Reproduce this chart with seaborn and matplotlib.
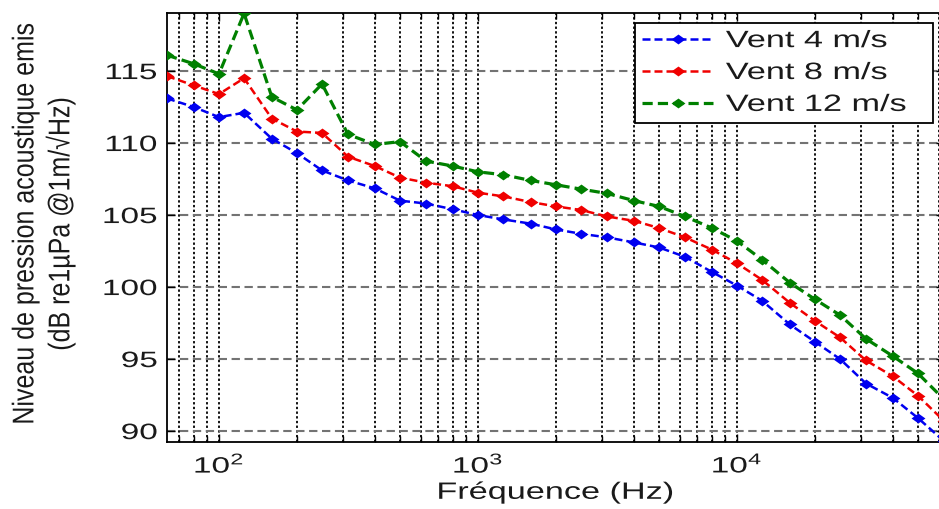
import numpy as np
import pandas as pd
import matplotlib
matplotlib.use("Agg")
import matplotlib.pyplot as plt
import seaborn as sns
from matplotlib.patheffects import AbstractPathEffect
from matplotlib.transforms import Affine2D
from matplotlib.path import Path
from matplotlib.ticker import LogLocator, NullFormatter, LogFormatterSciNotation

# Third-octave band centre frequencies (Hz)
freq_hz = [63, 80, 100, 125, 160, 200, 250, 315, 400, 500, 630, 800, 1000, 1250,
           1600, 2000, 2500, 3150, 4000, 5000, 6300, 8000, 10000, 12500, 16000,
           20000, 25000, 31500, 40000, 50000, 63000]

# Emitted source level, dB re 1 µPa @ 1 m / √Hz
level_4ms = [113.1, 112.5, 111.8, 112.1, 110.3, 109.3, 108.1, 107.4, 106.85, 106.0,
             105.8, 105.4, 105.0, 104.7, 104.4, 104.0, 103.7, 103.45, 103.1, 102.75,
             102.1, 101.05, 100.1, 99.05, 97.4, 96.2, 95.0, 93.3, 92.3, 90.9, 89.3]
level_8ms = [114.65, 114.0, 113.4, 114.5, 111.7, 110.8, 110.7, 109.05, 108.4, 107.6,
             107.25, 107.0, 106.55, 106.3, 105.9, 105.6, 105.35, 104.9, 104.6, 104.1,
             103.45, 102.6, 101.65, 100.5, 98.9, 97.65, 96.5, 94.9, 93.8, 92.45, 90.7]
level_12ms = [116.1, 115.5, 114.8, 119.0, 113.2, 112.3, 114.1, 110.6, 109.9, 110.1,
              108.75, 108.4, 108.0, 107.8, 107.4, 107.1, 106.8, 106.5, 106.0, 105.6,
              104.9, 104.1, 103.2, 101.9, 100.3, 99.15, 98.05, 96.4, 95.2, 94.0, 92.2]

series_labels = ["Vent 4 m/s", "Vent 8 m/s", "Vent 12 m/s"]
series_colors = ["#0000f0", "#f00000", "#008000"]
series_widths = [1.8, 1.8, 2.3]
y_ticks = [90, 95, 100, 105, 110, 115]
x_ticks = [100, 1000, 10000]


class WideGlyphs(AbstractPathEffect):
    """Draw text glyphs widened horizontally about a chosen edge."""

    def __init__(self, sx=1.45, anchor="center"):
        super().__init__()
        self.sx = sx
        self.anchor = anchor

    def draw_path(self, renderer, gc, tpath, affine, rgbFace=None):
        ext = tpath.get_extents(affine)
        if self.anchor == "left":
            x0 = ext.x0
        elif self.anchor == "right":
            x0 = ext.x1
        else:
            x0 = 0.5 * (ext.x0 + ext.x1)
        widen = Affine2D().translate(-x0, 0).scale(self.sx, 1.0).translate(x0, 0)
        renderer.draw_path(gc, tpath, affine + widen, rgbFace)


sns.set_theme(style="ticks")
plt.rcParams["font.family"] = ["Liberation Sans", "DejaVu Sans"]
plt.rcParams["mathtext.default"] = "regular"
plt.rcParams["axes.unicode_minus"] = False

df = pd.DataFrame({
    "freq": freq_hz * 3,
    "level": level_4ms + level_8ms + level_12ms,
    "vent": sum([[lab] * len(freq_hz) for lab in series_labels], []),
})

# flattened diamond marker
diamond = Path([(0, 1), (1.4, 0), (0, -1), (-1.4, 0), (0, 1)],
               [Path.MOVETO, Path.LINETO, Path.LINETO, Path.LINETO, Path.CLOSEPOLY])

fig = plt.figure(figsize=(9.39, 5.09), dpi=100)
ax = fig.add_axes([167 / 939, 67 / 509, 777 / 939, 429 / 509])

for lab, col, lw in zip(series_labels, series_colors, series_widths):
    sub = df[df["vent"] == lab]
    sns.lineplot(data=sub, x="freq", y="level", ax=ax, color=col, lw=lw,
                 linestyle=(0, (3.2, 1.6)), marker=diamond, markersize=10,
                 markeredgewidth=0, label=lab, zorder=3)

ax.set_xscale("log")
ax.set_xlim(63, 63000)
ax.set_ylim(89.24, 119.03)
ax.set_xticks(x_ticks)
ax.xaxis.set_major_formatter(LogFormatterSciNotation())
ax.xaxis.set_minor_locator(LogLocator(base=10, subs=np.arange(2, 10)))
ax.xaxis.set_minor_formatter(NullFormatter())
ax.set_yticks(y_ticks)

ax.set_axisbelow(True)
ax.grid(True, which="major", axis="y", linestyle=(0, (4, 2.2)), color="0.45", lw=1.5)
ax.grid(True, which="both", axis="x", linestyle=(0, (1.3, 1.3)), color="black", lw=1.3)

ax.tick_params(which="both", direction="in", top=True, right=True, width=1.0,
               colors="black", labelcolor="#1a1a1a")
ax.tick_params(which="major", length=6, labelsize=16, pad=7)
ax.tick_params(which="minor", length=4)
for sp in ax.spines.values():
    sp.set_visible(True)
    sp.set_color("black")
    sp.set_linewidth(1.3)

ax.set_xlabel("Fréquence (Hz)", fontsize=17, color="#1a1a1a", labelpad=3)
ax.set_ylabel("Niveau de pression acoustique emis\n(dB re1µPa @1m/√Hz)",
              fontsize=18, color="#1a1a1a", linespacing=1.55, va="center")
ax.yaxis.set_label_coords((43 - 167) / 777, (442 - 224) / 429)

leg = ax.legend(loc="upper left", mode="expand",
                bbox_to_anchor=(635 / 939, 1 - 23 / 509 - 0.3, 298 / 939, 0.3),
                bbox_transform=fig.transFigure, borderaxespad=0,
                fontsize=17, handlelength=3.0, handletextpad=0.55,
                labelspacing=0.42, borderpad=0.3, fancybox=False, framealpha=1,
                edgecolor="black", numpoints=1)
leg.get_frame().set_linewidth(1.3)
for t in leg.get_texts():
    t.set_color("#1a1a1a")
    t.set_path_effects([WideGlyphs(1.45, "left")])

for lab in ax.get_yticklabels():
    lab.set_path_effects([WideGlyphs(1.5, "right")])
for lab in ax.get_xticklabels():
    lab.set_path_effects([WideGlyphs(1.5, "center")])
ax.xaxis.label.set_path_effects([WideGlyphs(1.45, "center")])
ax.yaxis.label.set_path_effects([WideGlyphs(1.2, "center")])

fig.savefig("out.png", dpi=100)
